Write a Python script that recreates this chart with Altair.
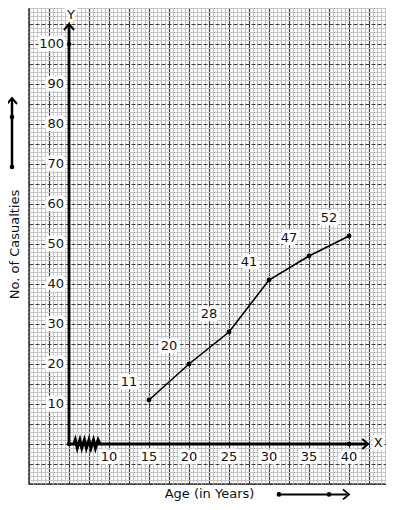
import altair as alt
import pandas as pd

# ---- data ----
ages = [15, 20, 25, 30, 35, 40]
casualties = [11, 20, 28, 41, 47, 52]
x_tick_values = [10, 15, 20, 25, 30, 35, 40]
y_tick_values = [10, 20, 30, 40, 50, 60, 70, 80, 90, 100]

X_DOMAIN = [0, 44.625]
Y_DOMAIN = [-10, 109]
x_grid = [i * 0.5 for i in range(0, 90)]
y_grid = list(range(-10, 110))

FONT = "DejaVu Sans"

df = pd.DataFrame({"age": ages, "cas": casualties, "label": [str(c) for c in casualties]})
xt = pd.DataFrame({"v": x_tick_values, "y": [0] * len(x_tick_values),
                   "label": [str(v) for v in x_tick_values]})
yt = pd.DataFrame({"v": y_tick_values, "x": [5] * len(y_tick_values),
                   "label": [str(v) for v in y_tick_values]})

xs = alt.Scale(domain=X_DOMAIN, nice=False, zero=False)
ys = alt.Scale(domain=Y_DOMAIN, nice=False, zero=False)

# ---- graph paper via axis grids (same axis objects on every layer) ----
X_AXIS = alt.Axis(
    values=x_grid, grid=True,
    gridColor={"condition": {"test": "datum.value % 2.5 === 0", "value": "#3c3c3c"}, "value": "#c4c4c4"},
    gridWidth={"condition": {"test": "datum.value % 2.5 === 0", "value": 1.2}, "value": 1},
    labels=False, ticks=False, domain=False,
    title="Age (in Years)", titleFont=FONT, titleFontSize=13, titleFontWeight="normal",
    titleColor="#111", titleX=180, titleY=9, titleBaseline="middle", titleAlign="center")
Y_AXIS = alt.Axis(
    values=y_grid, grid=True,
    gridColor={"condition": {"test": "datum.value % 5 === 0", "value": "#3c3c3c"}, "value": "#c4c4c4"},
    gridDash={"condition": {"test": "datum.value % 5 === 0", "value": [4, 2]}, "value": []},
    gridWidth={"condition": {"test": "datum.value % 5 === 0", "value": 1.2}, "value": 1},
    labels=False, ticks=False, domain=False,
    title="No. of Casualties", titleFont=FONT, titleFontSize=13, titleFontWeight="normal",
    titleColor="#111", titleX=-15, titleY=236, titleBaseline="middle", titleAlign="center")


def X(field):
    return alt.X(field, scale=xs, axis=X_AXIS)


def Y(field):
    return alt.Y(field, scale=ys, axis=Y_AXIS)


# ---- axis lines ----
y_axis_line = alt.Chart(pd.DataFrame({"x": [5], "y": [0], "y2": [105]})).mark_rule(
    color="black", strokeWidth=2.8).encode(x=X("x:Q"), y=Y("y:Q"), y2="y2:Q")
x_axis_line = alt.Chart(pd.DataFrame({"x": [5], "x2": [42.2], "y": [0]})).mark_rule(
    color="black", strokeWidth=2.8).encode(x=X("x:Q"), x2="x2:Q", y=Y("y:Q"))

ARROW = "M-1,1.2L0,0L1,1.2"
arrows = alt.Chart(pd.DataFrame({"x": [5, 42.4, -2.125], "y": [105, 0, 86.5], "ang": [0, 90, 0]})).mark_point(
    shape=ARROW, size=100, filled=False, color="black", strokeWidth=2, opacity=1).encode(
    x=X("x:Q"), y=Y("y:Q"), angle=alt.Angle("ang:Q", scale=None))
arrow_bottom = alt.Chart(pd.DataFrame({"x": [40], "y": [-12.6], "ang": [90]})).mark_point(
    shape=ARROW, size=100, filled=False, color="black", strokeWidth=1.8, opacity=1).encode(
    x=X("x:Q"), y=Y("y:Q"), angle=alt.Angle("ang:Q", scale=None))

ZIGZAG = ("M-1,0L-0.9,-0.32L-0.75,0.32L-0.55,-0.32L-0.4,0.32L-0.2,-0.32L-0.05,0.32"
          "L0.15,-0.32L0.3,0.32L0.5,-0.32L0.65,0.32L0.85,-0.32L1,0")
zigzag = alt.Chart(pd.DataFrame({"x": [7.25], "y": [0]})).mark_point(
    shape=ZIGZAG, size=676, filled=False, color="black", strokeWidth=3, opacity=1).encode(
    x=X("x:Q"), y=Y("y:Q"))

axis_dots = alt.Chart(pd.DataFrame({"x": [5, 5, 40], "y": [0, 100, 0]})).mark_circle(
    color="black", size=22, opacity=1).encode(x=X("x:Q"), y=Y("y:Q"))

# ---- side arrows next to the titles ----
side_left = alt.Chart(pd.DataFrame({"x": [-2.125], "y": [69.25], "y2": [86.3]})).mark_rule(
    color="black", strokeWidth=2.5).encode(x=X("x:Q"), y=Y("y:Q"), y2="y2:Q")
side_left_dots = alt.Chart(pd.DataFrame({"x": [-2.125, -2.125], "y": [69.25, 81.75]})).mark_circle(
    color="black", size=22, opacity=1).encode(x=X("x:Q"), y=Y("y:Q"))
side_bottom = alt.Chart(pd.DataFrame({"x": [31.25], "x2": [39.8], "y": [-12.6]})).mark_rule(
    color="black", strokeWidth=2).encode(x=X("x:Q"), x2="x2:Q", y=Y("y:Q"))
side_bottom_dots = alt.Chart(pd.DataFrame({"x": [31.25, 37.5], "y": [-12.6, -12.6]})).mark_circle(
    color="black", size=22, opacity=1).encode(x=X("x:Q"), y=Y("y:Q"))

# ---- data line ----
line = alt.Chart(df).mark_line(color="black", strokeWidth=1.6).encode(x=X("age:Q"), y=Y("cas:Q"))
pts = alt.Chart(df).mark_circle(color="black", size=24, opacity=1).encode(x=X("age:Q"), y=Y("cas:Q"))


def halo_text(data, xf, yf, sw=7, **kw):
    bg = alt.Chart(data).mark_text(font=FONT, fontSize=13, color="white", stroke="white",
                                   strokeWidth=sw, strokeJoin="round", **kw).encode(
        x=X(xf), y=Y(yf), text="label:N")
    fg = alt.Chart(data).mark_text(font=FONT, fontSize=13, color="#111", **kw).encode(
        x=X(xf), y=Y(yf), text="label:N")
    return [bg, fg]


y_labels = halo_text(yt, "x:Q", "v:Q", align="right", baseline="middle", dx=-5)
x_labels = halo_text(xt, "v:Q", "y:Q", align="center", baseline="middle", dy=13)
d_labels = halo_text(df, "age:Q", "cas:Q", align="center", baseline="middle", dx=-20, dy=-18)

y_letter = pd.DataFrame({"x": [5], "y": [105], "label": ["Y"]})
x_letter = pd.DataFrame({"x": [42.4], "y": [0], "label": ["X"]})
y_letter_marks = halo_text(y_letter, "x:Q", "y:Q", sw=6, align="center", baseline="middle", dx=2, dy=-9)
x_letter_marks = halo_text(x_letter, "x:Q", "y:Q", sw=6, align="center", baseline="middle", dx=10, dy=-1)

chart = alt.layer(
    y_axis_line, x_axis_line, arrows, arrow_bottom, zigzag, axis_dots,
    side_left, side_left_dots, side_bottom, side_bottom_dots,
    line, pts, *y_labels, *x_labels, *d_labels, *y_letter_marks, *x_letter_marks,
).properties(
    width=357, height=476,
    autosize=alt.AutoSizeParams(type="none"),
    padding={"left": 21, "top": 0, "right": 0, "bottom": 18},
    background="white",
).configure_view(stroke="#333", strokeWidth=1.5)

chart.save("out.html", embed_options={"renderer": "svg", "actions": False})
